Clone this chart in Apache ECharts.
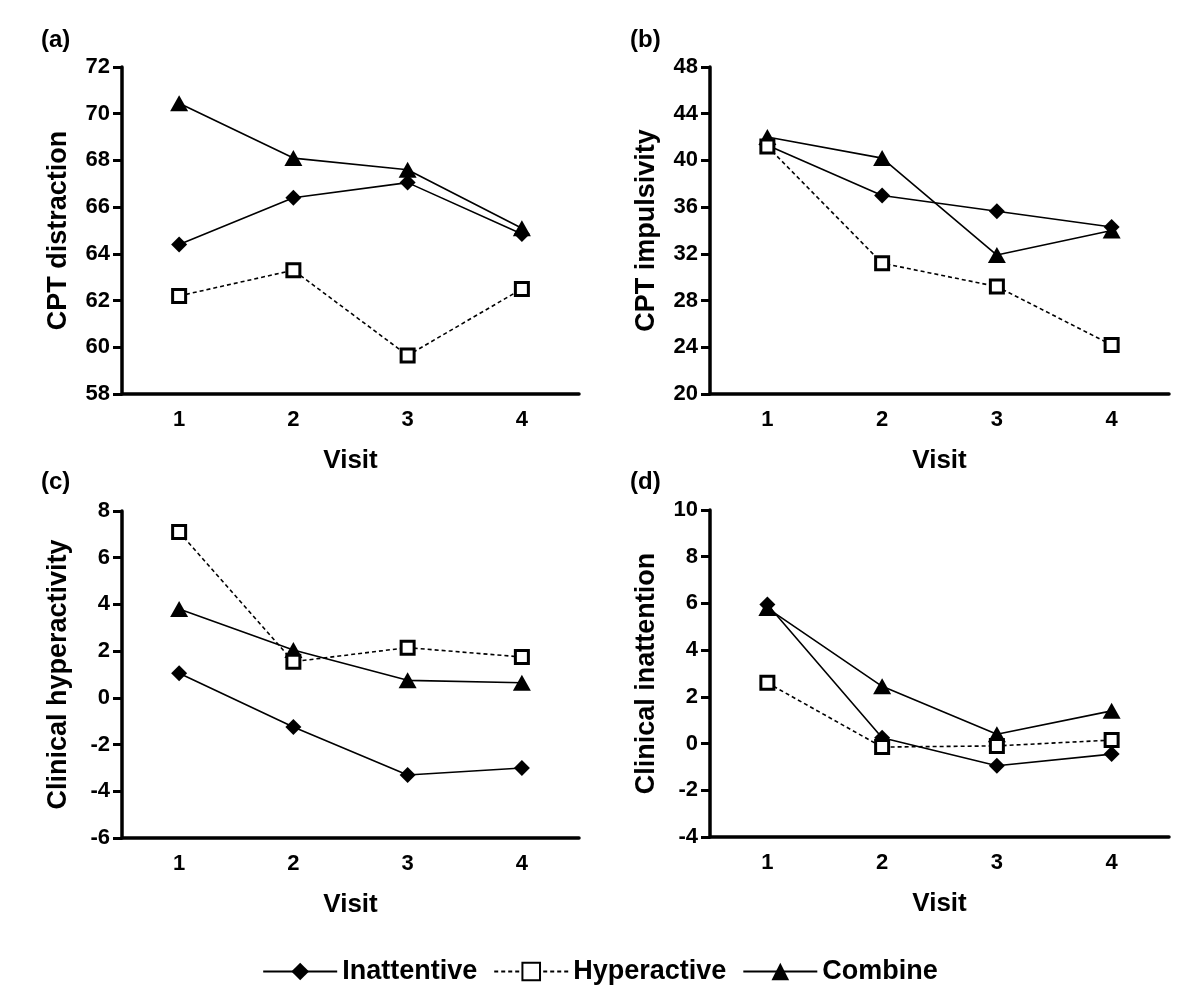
<!DOCTYPE html>
<html><head><meta charset="utf-8">
<script src="https://cdn.jsdelivr.net/npm/echarts@6/dist/echarts.min.js"></script>
<style>html,body{margin:0;padding:0;background:#fff}#c{width:1200px;height:1002px}</style>
</head><body><div id="c"></div>
<script>
const visits = ['1','2','3','4'];
const seriesNames = ['Inattentive','Hyperactive','Combine'];
const panelLabels = ['(a)','(b)','(c)','(d)'];
const yNames = ['CPT distraction','CPT impulsivity','Clinical hyperactivity','Clinical inattention'];
const yMin = [58, 20, -6, -4];
const yMax = [72, 48, 8, 10];
const yStep = [2, 4, 2, 2];

// (a) CPT distraction
const aInattentive = [64.4, 66.4, 67.05, 64.85];
const aHyperactive = [62.2, 63.3, 59.65, 62.5];
const aCombine = [70.45, 68.1, 67.6, 65.1];
// (b) CPT impulsivity
const bInattentive = [41.3, 37.0, 35.65, 34.3];
const bHyperactive = [41.2, 31.2, 29.2, 24.2];
const bCombine = [42.0, 40.2, 31.9, 34.0];
// (c) Clinical hyperactivity
const cInattentive = [1.05, -1.25, -3.3, -3.0];
const cHyperactive = [7.1, 1.55, 2.15, 1.75];
const cCombine = [3.8, 2.05, 0.75, 0.65];
// (d) Clinical inattention
const dInattentive = [5.95, 0.25, -0.95, -0.45];
const dHyperactive = [2.6, -0.15, -0.1, 0.15];
const dCombine = [5.8, 2.45, 0.4, 1.4];

const panelData = [
  [aInattentive, aHyperactive, aCombine],
  [bInattentive, bHyperactive, bCombine],
  [cInattentive, cHyperactive, cCombine],
  [dInattentive, dHyperactive, dCombine]
];

const FONT = '"Liberation Sans", Arial, sans-serif';
const grids = [
  {left:122, top:67, width:457, height:327},
  {left:710, top:67, width:459, height:327},
  {left:122, top:511, width:457, height:327},
  {left:710, top:510, width:459, height:327}
];
const labelPos = [[41,28],[630,28],[41,470],[630,470]];

const styles = [
  {symbol:'diamond', symbolSize:[16,16], color:'#000', lineType:'solid'},
  {symbol:'rect', symbolSize:[13,13], color:'#fff', lineType:[4,3]},
  {symbol:'triangle', symbolSize:[18,16], color:'#000', lineType:'solid'}
];

const option = {
  backgroundColor:'#fff',
  animation:false,
  textStyle:{fontFamily:FONT, color:'#000'},
  title: panelLabels.map((t,i)=>({text:t, left:labelPos[i][0], top:labelPos[i][1], padding:0,
    textStyle:{fontFamily:FONT, fontWeight:'bold', fontSize:24, color:'#000'}})),
  grid: grids,
  xAxis: grids.map((g,i)=>({
    type:'category', gridIndex:i, data:visits, boundaryGap:true,
    name:'Visit', nameLocation:'middle', nameGap:54,
    nameTextStyle:{fontFamily:FONT, fontWeight:'bold', fontSize:26, color:'#000'},
    axisLine:{onZero:false, lineStyle:{color:'#000', width:3.5}},
    axisTick:{alignWithLabel:true, length:9, lineStyle:{color:'#000', width:3}},
    axisLabel:{fontFamily:FONT, fontWeight:'bold', fontSize:22, color:'#000', margin:15},
    splitLine:{show:false}
  })),
  yAxis: grids.map((g,i)=>({
    type:'value', gridIndex:i, min:yMin[i], max:yMax[i], interval:yStep[i],
    name:yNames[i], nameLocation:'middle', nameGap:50,
    nameTextStyle:{fontFamily:FONT, fontWeight:'bold', fontSize:27, color:'#000'},
    axisLine:{show:true, onZero:false, lineStyle:{color:'#000', width:3.5}},
    axisTick:{show:true, length:9, lineStyle:{color:'#000', width:3}},
    axisLabel:{fontFamily:FONT, fontWeight:'bold', fontSize:22, color:'#000', margin:12},
    splitLine:{show:false}
  })),
  legend:{
    bottom:12, left:'center', itemWidth:74, itemHeight:22, itemGap:16,
    data:seriesNames,
    textStyle:{fontFamily:FONT, fontWeight:'bold', fontSize:27, color:'#000'}
  },
  series: []
};

panelData.forEach((arr,pi)=>{
  arr.forEach((vals,si)=>{
    const st = styles[si];
    option.series.push({
      type:'line', name:seriesNames[si], xAxisIndex:pi, yAxisIndex:pi, data:vals,
      symbol:st.symbol, symbolSize:st.symbolSize, showAllSymbol:true,
      z: si===1 ? 3 : 2,
      lineStyle:{color:'#000', width:1.6, type:st.lineType},
      itemStyle:{color:st.color, borderColor:'#000', borderWidth: si===1 ? 3 : 0, opacity:1},
      emphasis:{disabled:true}
    });
  });
});

const chart = echarts.init(document.getElementById('c'), null, {renderer:'canvas'});
chart.setOption(option);
</script></body></html>
